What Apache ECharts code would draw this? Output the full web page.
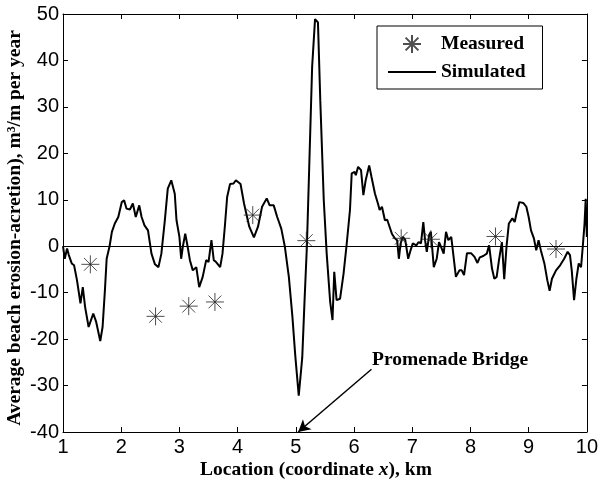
<!DOCTYPE html>
<html>
<head>
<meta charset="utf-8">
<script src="https://cdn.jsdelivr.net/npm/echarts@6/dist/echarts.min.js"></script>
<style>
html, body { margin: 0; padding: 0; background: #fff; }
#chart { width: 601px; height: 483px; }
</style>
</head>
<body>
<div id="chart"></div>
<script>
// Simulated long-term erosion/accretion along the beach (km, m3/m per year)
const simX = [1.00,1.03,1.07,1.10,1.15,1.19,1.24,1.30,1.34,1.38,1.44,1.52,1.57,1.64,1.68,1.72,1.75,1.80,1.84,1.89,
  1.95,2.01,2.05,2.09,2.15,2.20,2.25,2.31,2.35,2.40,2.46,2.52,2.58,2.64,2.69,2.75,2.80,2.86,2.92,2.95,
  3.00,3.03,3.06,3.10,3.14,3.18,3.23,3.29,3.34,3.40,3.46,3.50,3.55,3.59,3.63,3.70,3.74,3.78,3.82,3.87,
  3.93,3.97,4.05,4.11,4.20,4.28,4.35,4.42,4.50,4.55,4.62,4.68,4.75,4.81,4.88,4.94,4.99,5.05,5.11,5.15,
  5.19,5.23,5.28,5.33,5.38,5.42,5.48,5.53,5.59,5.63,5.66,5.70,5.76,5.82,5.87,5.93,5.96,6.01,6.03,6.07,
  6.12,6.16,6.20,6.26,6.30,6.36,6.41,6.44,6.48,6.53,6.57,6.61,6.65,6.70,6.74,6.77,6.80,6.84,6.88,6.93,
  6.97,7.01,7.07,7.11,7.15,7.19,7.22,7.25,7.29,7.32,7.37,7.42,7.46,7.49,7.54,7.58,7.62,7.67,7.71,7.75,
  7.81,7.85,7.89,7.94,8.01,8.07,8.12,8.16,8.22,8.28,8.32,8.37,8.41,8.45,8.49,8.54,8.58,8.62,8.66,8.72,
  8.76,8.79,8.84,8.91,8.96,9.00,9.04,9.09,9.13,9.17,9.21,9.27,9.32,9.36,9.40,9.47,9.54,9.61,9.67,9.71,
  9.74,9.78,9.82,9.86,9.90,9.93,9.96,9.98,9.99,10.00];
const simY = [0,-2.7,-0.5,-1.9,-3.7,-4.1,-7.3,-12.3,-8.8,-13.1,-17.4,-14.5,-16.3,-20.4,-17.4,-9.5,-2.7,0,3.1,4.9,
  6.3,9.5,9.9,8.1,7.9,9.2,6.3,8.8,6.3,4.5,3.4,-1.6,-3.9,-4.5,-1.6,5.6,12.4,14.2,11.3,5.6,
  2.0,-2.7,0,2.7,0,-3.0,-5.2,-4.5,-8.8,-6.6,-3.0,-3.4,1.3,-3.0,-3.4,-4.5,-1.6,4.2,10.6,13.4,
  13.5,14.2,13.4,9.2,4.2,1.9,4.2,8.5,10.3,8.8,8.8,6.3,3.8,0,-6.6,-15.0,-23.5,-32.2,-24.0,-11.6,
  0,17.0,38.6,48.9,48.2,31.4,9.9,-1.6,-12.0,-15.9,-5.5,-11.6,-11.3,-5.9,0,7.8,15.7,16.0,15.3,17.1,
  16.4,11.0,14.2,17.4,14.9,11.3,9.2,7.8,8.5,5.6,5.7,4.2,2.7,1.7,1.3,-2.7,0.6,2.0,1.3,-2.7,
  -0.9,0.6,0.2,0.9,0.6,5.2,1.3,-1.2,2.4,3.1,-4.5,-2.7,0.9,0,-1.6,3.1,1.3,2.0,-2.3,-6.6,
  -5.2,-5.2,-6.2,-1.5,-1.5,-2.3,-3.6,-2.4,-2.1,-1.6,0.2,-4.8,-7.0,-6.6,-3.0,0.9,-7.1,0,4.9,6.0,
  5.2,7.0,9.5,9.3,8.5,6.3,3.4,1.7,-0.9,1.3,-0.9,-3.7,-7.3,-9.6,-7.0,-5.2,-4.1,-2.7,-1.2,-1.9,
  -5.2,-11.6,-7.0,-3.7,-4.5,0,4.9,10.2,6.0,2.0];

// Field measurements
const measX = [1.47, 2.59, 3.16, 3.61, 4.26, 5.18, 6.81, 7.32, 8.43, 9.47];
const measY = [-3.9, -15.1, -12.9, -12.0, 6.7, 1.2, 1.7, 1.5, 2.1, -0.6];

// Axis ranges and ticks
const xTicks = [1, 10, 1];    // min, max, step
const yTicks = [-40, 50, 10];

// Axis titles
const xTitle = 'Location (coordinate {i|x}), km';
const yTitle = 'Average beach erosion-acretion), m³/m per year';

// Bridge annotation: label anchor and arrow from label to the shoreline position
const bridgeLabel = 'Promenade Bridge';
const bridgeText = [6.31, -24.5];
const bridgeArrow = [[6.30, -26.5], [5.04, -40]];

const simulated = simX.map((x, i) => [x, simY[i]]);
const measured = measX.map((x, i) => [x, measY[i]]);

const serif = '"Liberation Serif", "Times New Roman", serif';
const sans = '"Liberation Sans", Arial, Helvetica, sans-serif';
const asterisk = 'path://M0,-9L0,9M-9,0L9,0M-6.4,-6.4L6.4,6.4M-6.4,6.4L6.4,-6.4';

const chart = echarts.init(document.getElementById('chart'), null, { renderer: 'canvas' });

const boxAxis = {
  axisLine: { show: true, onZero: false, lineStyle: { color: '#000', width: 1 } },
  axisTick: { show: true, inside: true, length: 5, lineStyle: { color: '#000', width: 1 } },
  splitLine: { show: false }
};

chart.setOption({
  animation: false,
  backgroundColor: '#fff',
  grid: { left: 63, right: 11, top: 14, bottom: 51, containLabel: false },
  xAxis: [
    Object.assign({}, boxAxis, {
      type: 'value', position: 'bottom',
      min: xTicks[0], max: xTicks[1], interval: xTicks[2],
      axisLabel: { color: '#000', fontFamily: sans, fontSize: 20, margin: 5 }
    }),
    Object.assign({}, boxAxis, {
      type: 'value', position: 'top',
      min: xTicks[0], max: xTicks[1], interval: xTicks[2],
      axisLabel: { show: false }
    })
  ],
  yAxis: [
    Object.assign({}, boxAxis, {
      type: 'value', position: 'left',
      min: yTicks[0], max: yTicks[1], interval: yTicks[2],
      axisLabel: { color: '#000', fontFamily: sans, fontSize: 20, margin: 4 }
    }),
    Object.assign({}, boxAxis, {
      type: 'value', position: 'right',
      min: yTicks[0], max: yTicks[1], interval: yTicks[2],
      axisLabel: { show: false }
    })
  ],
  graphic: [
    {
      type: 'text', x: 316, y: 470, silent: true,
      style: {
        text: xTitle, align: 'center', verticalAlign: 'middle',
        fill: '#000', font: 'bold 19.5px ' + serif,
        rich: { i: { fontFamily: serif, fontWeight: 'bold', fontStyle: 'italic', fontSize: 19.5, fill: '#000' } }
      }
    },
    {
      type: 'text', x: 15, y: 228, rotation: Math.PI / 2, silent: true,
      style: {
        text: yTitle, align: 'center', verticalAlign: 'middle',
        fill: '#000', font: 'bold 19.5px ' + serif
      }
    }
  ],
  legend: {
    orient: 'vertical',
    left: 377, top: 26,
    padding: [8, 17, 7, 10],
    itemWidth: 48, itemHeight: 18, itemGap: 8,
    borderColor: '#000', borderWidth: 1,
    backgroundColor: '#fff',
    textStyle: { color: '#000', fontFamily: serif, fontWeight: 'bold', fontSize: 19.5 },
    data: ['Measured', 'Simulated']
  },
  series: [
    {
      name: 'Simulated',
      type: 'line',
      data: simulated,
      symbol: 'none',
      lineStyle: { color: '#000', width: 2 },
      itemStyle: { color: 'rgba(0,0,0,0)', borderWidth: 0 },
      z: 3,
      markLine: {
        silent: true,
        symbol: 'none',
        label: { show: false },
        lineStyle: { color: '#000', width: 1, type: 'solid' },
        data: [{ yAxis: 0 }]
      }
    },
    {
      name: 'Measured',
      type: 'scatter',
      data: measured,
      symbol: asterisk,
      symbolSize: 18,
      symbolKeepAspect: true,
      itemStyle: { color: 'rgba(0,0,0,0)', borderColor: '#222', borderWidth: 1 },
      z: 4
    },
    {
      name: 'annotation',
      type: 'line',
      data: [],
      silent: true,
      markLine: {
        silent: true,
        symbol: ['none', 'arrow'],
        symbolSize: [10, 12],
        label: { show: false },
        lineStyle: { color: '#000', width: 1.5, type: 'solid' },
        data: [[{ coord: bridgeArrow[0] }, { coord: bridgeArrow[1] }]]
      },
      markPoint: {
        silent: true,
        symbol: 'circle',
        symbolSize: 0,
        label: {
          show: true, position: 'inside', align: 'left', verticalAlign: 'middle',
          formatter: bridgeLabel,
          color: '#000', fontFamily: serif, fontWeight: 'bold', fontSize: 19.5
        },
        data: [{ coord: bridgeText }]
      }
    }
  ]
});
</script>
</body>
</html>
